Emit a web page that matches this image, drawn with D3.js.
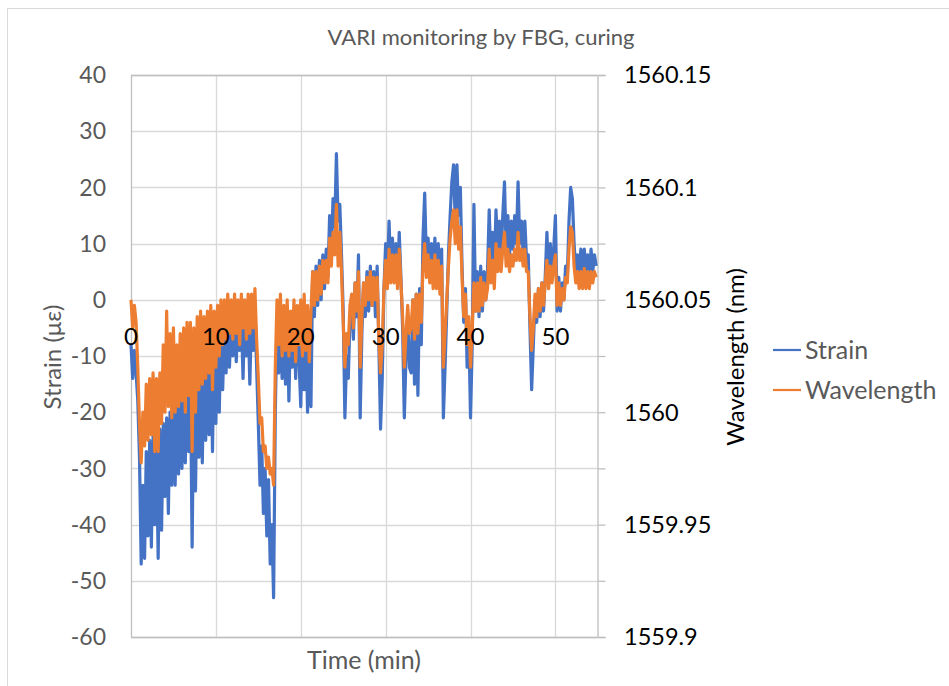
<!DOCTYPE html>
<meta charset="utf-8">
<title>VARI monitoring by FBG, curing</title>
<script src="https://d3js.org/d3.v7.min.js"></script>
<style>
  body { margin: 0; background: #fff; }
  text { font-family: Lato, "Open Sans", sans-serif; }
</style>
<body>
<div id="chart"></div>
<script>

// sampling interval of the logger, minutes
var sampleStep = 0.2;

// strain (με), one row per minute (5 samples each)
var strain = [
  -8, -14, -9, -13, -18,
  -28, -47, -33, -46, -27,
  -42, -25, -44, -24, -40,
  -26, -46, -23, -41, -22,
  -35, -21, -38, -20, -33,
  -18, -33, -17, -31, -16,
  -30, -15, -29, -14, -27,
  -13, -44, -15, -34, -12,
  -28, -11, -29, -10, -25,
  -9, -24, -8, -27, -7,
  -22, -6, -20, -5, -16,
  -5, -13, -4, -12, -4,
  -10, -3, -11, -3, -9,
  -3, -14, -2, -10, -3,
  -15, -2, -9, -1, -12,
  -22, -33, -26, -38, -30,
  -42, -32, -47, -40, -53,
  -20, -3, -13, -2, -14,
  -3, -15, -2, -18, -4,
  -12, -3, -14, -2, -11,
  -19, -4, -16, -3, -20,
  -5, -19, 5, -3, 6,
  -1, 7, 0, 8, 2,
  9, 4, 15, 8, 18,
  13, 26, 14, 17, 8,
  -2, -21, -10, -14, -3,
  0, -7, 3, -3, 8,
  -21, -6, 3, -3, 5,
  -2, 6, -1, 5, -3,
  6, -8, -23, -14, 2,
  10, 3, 14, 5, 11,
  4, 10, 3, 12, 4,
  -5, -21, -10, -3, -12,
  -13, 0, -15, 1, -17,
  2, -8, 11, 19, 7,
  11, 4, 10, 3, 11,
  3, 10, 2, 9, -21,
  -12, -2, 8, 15, 21,
  24, 14, 24, 15, 20,
  6, -4, 2, -12, -5,
  -21, -8, 17, -2, 5,
  -3, 6, -2, 5, 0,
  5, 16, 6, 12, 5,
  16, 8, 14, 8, 15,
  21, 9, 15, 8, 14,
  9, 15, 10, 21, 10,
  14, 8, 14, 7, 8,
  -5, -16, -8, 0, -4,
  2, -3, 3, -2, 4,
  12, 4, 10, 5, 9,
  15, -2, 4, -2, 3,
  0, 6, 4, 14, 20,
  18, 10, 5, 8, 5,
  9, 4, 9, 5, 8,
  4, 9, 5, 8, 6
];

// wavelength (nm), same samples
var wavelength = [
  1560.050, 1560.0375, 1560.0475, 1560.040, 1560.020,
  1559.995, 1559.9775, 1560.000, 1559.985, 1560.0125,
  1559.9875, 1560.015, 1559.990, 1560.0175, 1559.9825,
  1560.015, 1559.9825, 1560.0175, 1559.995, 1560.030,
  1560.000, 1560.045, 1560.0025, 1560.035, 1559.9975,
  1560.0375, 1560.000, 1560.030, 1560.0025, 1560.035,
  1560.005, 1560.0375, 1560.000, 1560.040, 1560.0075,
  1560.040, 1559.9825, 1560.0375, 1560.000, 1560.0425,
  1560.010, 1560.045, 1560.0125, 1560.0425, 1560.015,
  1560.045, 1560.0175, 1560.0475, 1560.010, 1560.045,
  1560.020, 1560.0475, 1560.025, 1560.050, 1560.030,
  1560.050, 1560.0325, 1560.0525, 1560.035, 1560.050,
  1560.0325, 1560.0525, 1560.035, 1560.050, 1560.030,
  1560.0525, 1560.0375, 1560.050, 1560.0325, 1560.0525,
  1560.035, 1560.0525, 1560.0375, 1560.055, 1560.0325,
  1560.015, 1559.995, 1559.9975, 1559.9825, 1559.985,
  1559.975, 1559.980, 1559.9725, 1559.975, 1559.9675,
  1560.020, 1560.050, 1560.030, 1560.0525, 1560.025,
  1560.0475, 1560.0275, 1560.050, 1560.025, 1560.045,
  1560.0275, 1560.050, 1560.0225, 1560.0475, 1560.030,
  1560.050, 1560.025, 1560.0525, 1560.0275, 1560.0475,
  1560.0225, 1560.045, 1560.0625, 1560.0475, 1560.0625,
  1560.050, 1560.065, 1560.0525, 1560.0675, 1560.0575,
  1560.0675, 1560.0575, 1560.0775, 1560.065, 1560.080,
  1560.070, 1560.0925, 1560.065, 1560.080, 1560.0625,
  1560.040, 1560.020, 1560.035, 1560.030, 1560.0475,
  1560.0525, 1560.0375, 1560.0575, 1560.045, 1560.0625,
  1560.020, 1560.0425, 1560.0575, 1560.0475, 1560.060,
  1560.050, 1560.0625, 1560.0475, 1560.060, 1560.050,
  1560.060, 1560.0325, 1560.0175, 1560.030, 1560.055,
  1560.0675, 1560.055, 1560.0725, 1560.0575, 1560.070,
  1560.0575, 1560.070, 1560.055, 1560.0725, 1560.0575,
  1560.0425, 1560.020, 1560.035, 1560.0475, 1560.035,
  1560.0375, 1560.050, 1560.0325, 1560.0525, 1560.035,
  1560.0525, 1560.040, 1560.065, 1560.075, 1560.060,
  1560.070, 1560.0575, 1560.0675, 1560.055, 1560.070,
  1560.055, 1560.0675, 1560.0525, 1560.065, 1560.020,
  1560.035, 1560.050, 1560.065, 1560.0775, 1560.085,
  1560.090, 1560.075, 1560.090, 1560.0725, 1560.0825,
  1560.060, 1560.0425, 1560.0525, 1560.030, 1560.0425,
  1560.020, 1560.0375, 1560.0575, 1560.045, 1560.0575,
  1560.045, 1560.060, 1560.0475, 1560.0575, 1560.050,
  1560.055, 1560.0725, 1560.0575, 1560.0675, 1560.055,
  1560.075, 1560.0625, 1560.0725, 1560.0625, 1560.0725,
  1560.080, 1560.065, 1560.0725, 1560.0625, 1560.070,
  1560.065, 1560.0725, 1560.0675, 1560.080, 1560.0675,
  1560.0725, 1560.065, 1560.0725, 1560.0625, 1560.0625,
  1560.0425, 1560.0275, 1560.0375, 1560.0525, 1560.0425,
  1560.055, 1560.045, 1560.0575, 1560.0475, 1560.0575,
  1560.0675, 1560.055, 1560.065, 1560.0575, 1560.065,
  1560.070, 1560.0475, 1560.0575, 1560.0475, 1560.055,
  1560.050, 1560.060, 1560.0575, 1560.0725, 1560.0825,
  1560.080, 1560.065, 1560.0575, 1560.0625, 1560.055,
  1560.0625, 1560.055, 1560.064, 1560.055, 1560.0625,
  1560.055, 1560.0625, 1560.0575, 1560.0625, 1560.060
];

var xTicks = [0, 10, 20, 30, 40, 50];
var strainTicks = [40, 30, 20, 10, 0, -10, -20, -30, -40, -50, -60];
var wlTicks = [1560.15, 1560.125, 1560.1, 1560.075, 1560.05, 1560.025, 1560, 1559.975, 1559.95, 1559.925, 1559.9];
var wlLabels = ["1560.15", "1560.1", "1560.05", "1560", "1559.95", "1559.9"];
var seriesNames = ["Strain", "Wavelength"];

var width = 949, height = 686;
var plot = {left: 131, right: 597, top: 75, bottom: 637};
var blue = "#4472c4", orange = "#ed7d31";

var svg = d3.select("#chart").append("svg")
    .attr("width", width)
    .attr("height", height);

// chart frame
svg.append("rect")
    .attr("x", 7.5).attr("y", 8.5)
    .attr("width", 1000).attr("height", 1000)
    .attr("fill", "none")
    .attr("stroke", "#d9d9d9");

var x = d3.scaleLinear().domain([0, 54.9]).range([plot.left, plot.right]);
var y = d3.scaleLinear().domain([-60, 40]).range([plot.bottom, plot.top]);
var y2 = d3.scaleLinear().domain([1559.9, 1560.15]).range([plot.bottom, plot.top]);

// gridlines
svg.append("g").selectAll("line")
  .data(strainTicks)
  .enter().append("line")
    .attr("x1", plot.left).attr("x2", plot.right)
    .attr("y1", function(d) { return Math.round(y(d)) + 0.5; })
    .attr("y2", function(d) { return Math.round(y(d)) + 0.5; })
    .attr("stroke", "#d9d9d9").attr("stroke-width", 1.3);

svg.append("g").selectAll("line")
  .data(xTicks.slice(1))
  .enter().append("line")
    .attr("x1", function(d) { return Math.round(x(d)) + 0.5; })
    .attr("x2", function(d) { return Math.round(x(d)) + 0.5; })
    .attr("y1", plot.top).attr("y2", plot.bottom)
    .attr("stroke", "#d9d9d9").attr("stroke-width", 1.3);

// plot border / axis lines
svg.append("line")
    .attr("x1", plot.left).attr("x2", plot.right)
    .attr("y1", plot.top + 0.5).attr("y2", plot.top + 0.5)
    .attr("stroke", "#bfbfbf").attr("stroke-width", 1.3);
svg.append("line")
    .attr("x1", plot.left).attr("x2", plot.right)
    .attr("y1", plot.bottom + 0.5).attr("y2", plot.bottom + 0.5)
    .attr("stroke", "#bfbfbf").attr("stroke-width", 1.3);
svg.append("line")
    .attr("x1", plot.left + 0.5).attr("x2", plot.left + 0.5)
    .attr("y1", plot.top).attr("y2", plot.bottom)
    .attr("stroke", "#bfbfbf").attr("stroke-width", 1.3);

// right axis
var rightAxis = svg.append("g")
    .attr("transform", "translate(" + (plot.right + 0.5) + ",0)")
    .call(d3.axisRight(y2).tickValues(wlTicks).tickSize(8).tickFormat(""));
rightAxis.selectAll("line, path").attr("stroke", "#bfbfbf").attr("stroke-width", 1.3);

svg.append("g").selectAll("text")
  .data(wlLabels)
  .enter().append("text")
    .attr("x", 624)
    .attr("y", function(d) { return y2(+d); })
    .attr("dy", "0.36em")
    .style("font-size", "23.5px")
    .attr("fill", "#000")
    .text(function(d) { return d; });

// left tick labels
svg.append("g").selectAll("text")
  .data(strainTicks)
  .enter().append("text")
    .attr("x", 106)
    .attr("y", function(d) { return y(d); })
    .attr("dy", "0.36em")
    .attr("text-anchor", "end")
    .style("font-size", "23px")
    .attr("fill", "#595959")
    .text(function(d) { return d; });

// series
var line = d3.line()
    .x(function(d, i) { return x(i * sampleStep); });

svg.append("path")
    .datum(strain)
    .attr("fill", "none")
    .attr("stroke", blue)
    .attr("stroke-width", 3.2)
    .attr("stroke-linejoin", "round")
    .attr("d", line.y(function(d) { return y(d); }));

svg.append("path")
    .datum(wavelength)
    .attr("fill", "none")
    .attr("stroke", orange)
    .attr("stroke-width", 3.2)
    .attr("stroke-linejoin", "round")
    .attr("d", line.y(function(d) { return y2(d); }));

// x tick labels sit at the zero line
svg.append("g").selectAll("text")
  .data(xTicks)
  .enter().append("text")
    .attr("x", function(d) { return x(d); })
    .attr("y", y(0) + 37)
    .attr("dy", "0.36em")
    .attr("text-anchor", "middle")
    .style("font-size", "24px")
    .attr("fill", "#000")
    .text(function(d) { return d; });

// titles
svg.append("text")
    .attr("x", 481).attr("y", 37)
    .attr("dy", "0.36em")
    .attr("text-anchor", "middle")
    .style("font-size", "22px")
    .attr("fill", "#595959")
    .text("VARI monitoring by FBG, curing");

svg.append("text")
    .attr("x", 364).attr("y", 660)
    .attr("dy", "0.36em")
    .attr("text-anchor", "middle")
    .style("font-size", "25px")
    .attr("fill", "#595959")
    .text("Time (min)");

svg.append("text")
    .attr("transform", "translate(52,357) rotate(-90)")
    .attr("dy", "0.36em")
    .attr("text-anchor", "middle")
    .style("font-size", "24px")
    .attr("fill", "#595959")
    .text("Strain (με)");

svg.append("text")
    .attr("transform", "translate(735,357) rotate(-90)")
    .attr("dy", "0.36em")
    .attr("text-anchor", "middle")
    .style("font-size", "24px")
    .attr("fill", "#000")
    .text("Wavelength (nm)");

// legend
var legend = svg.append("g").selectAll("g")
  .data(seriesNames)
  .enter().append("g")
    .attr("transform", function(d, i) { return "translate(773," + (350 + i * 40) + ")"; });

legend.append("line")
    .attr("x1", 0).attr("x2", 28)
    .attr("stroke", function(d, i) { return i ? orange : blue; })
    .attr("stroke-width", 2.2);

legend.append("text")
    .attr("x", 32)
    .attr("dy", "0.36em")
    .style("font-size", "25px")
    .attr("fill", "#595959")
    .text(function(d) { return d; });

</script>
</body>
